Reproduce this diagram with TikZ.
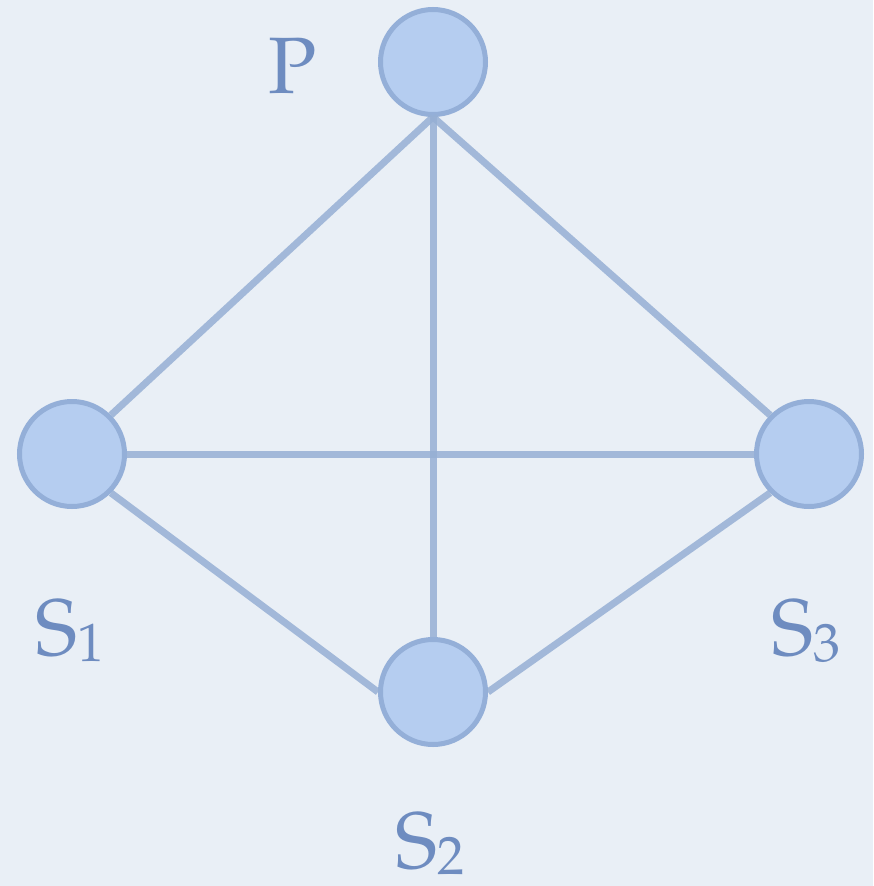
\documentclass[tikz,border=0pt]{standalone}
\usepackage[T1]{fontenc}
\renewcommand{\rmdefault}{ppl}
\definecolor{bgcol}{RGB}{233,239,246}
\definecolor{txtcol}{RGB}{110,140,192}
\definecolor{fillcol}{RGB}{181,205,240}
\definecolor{edgecol}{RGB}{148,175,216}
\definecolor{linecol}{RGB}{150,175,212}
\tikzset{
  vtx/.style={circle, minimum size=105pt, inner sep=0pt, fill=fillcol, draw=edgecol, line width=5pt},
  conn/.style={draw=linecol, line width=7pt, opacity=0.85},
  lbl/.style={inner sep=0pt, text=txtcol, font=\fontsize{80}{80}\selectfont, anchor=base west}
}
\newcommand{\subtxt}[1]{\raisebox{-6pt}{\fontsize{54}{54}\selectfont #1}}
\begin{document}
\begin{tikzpicture}[x=1pt,y=-1pt]
\fill[bgcol] (0,0) rectangle (873,886);
\useasboundingbox (0,0) rectangle (873,886);
\node[vtx] (P) at (433,62) {};
\node[vtx] (S1) at (72,454) {};
\node[vtx] (S3) at (809,454) {};
\node[vtx] (S2) at (433,692) {};
\draw[conn] (P.south) -- (S1.north east);
\draw[conn] (P.south) -- (S3.north west);
\draw[conn] (P.south) -- (S2.north);
\draw[conn] (S1.east) -- (S3.west);
\draw[conn] (S1.south east) -- (S2.west);
\draw[conn] (S2.east) -- (S3.south west);
\node[lbl] (lP) at (268,93) {P};
\node[lbl] (lS1) at (35,655) {S\subtxt{1}};
\node[lbl] (lS3) at (771,655) {S\subtxt{3}};
\node[lbl] (lS2) at (395,868) {S\subtxt{2}};
\end{tikzpicture}
\end{document}
